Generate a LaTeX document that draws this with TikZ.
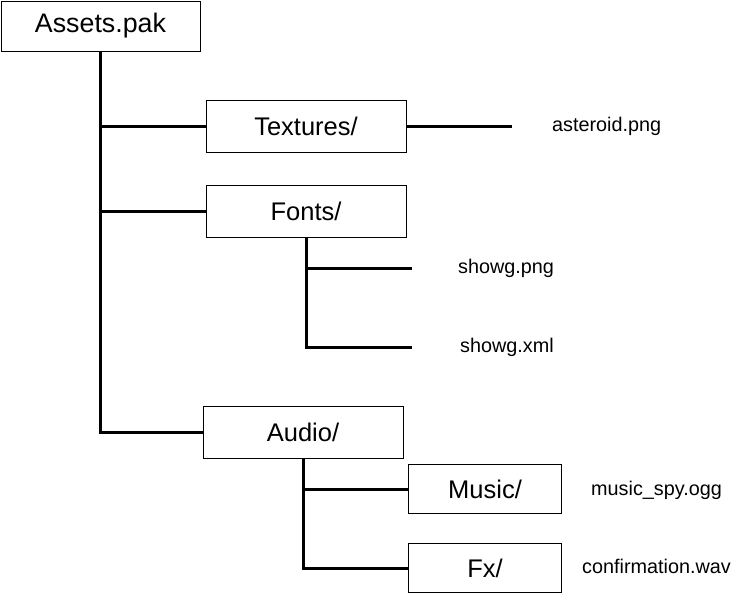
\documentclass[tikz,border=0pt]{standalone}
\usepackage{fontspec}
\setmainfont{Liberation Sans}
\begin{document}
\begin{tikzpicture}[x=1pt,y=-1pt,
  box/.style={draw,line width=1pt,inner sep=0pt,outer sep=0pt,minimum width=200pt,minimum height=52pt,font=\fontsize{25.5}{29}\selectfont},
  smallbox/.style={box,minimum width=153pt,minimum height=49pt},
  file/.style={inner sep=0pt,anchor=west,font=\fontsize{19.8}{23}\selectfont,text height=14pt,text depth=4pt},
  link/.style={line width=3pt}]
\useasboundingbox (0,0) rectangle (743,605);
\node[box,minimum width=199pt,minimum height=50pt,font=\fontsize{26.8}{30}\selectfont] (root) at (100.5,26) {Assets.pak};
\node[box] (tex) at (306,126) {Textures/};
\node[box] (fonts) at (306,211) {Fonts/};
\node[box] (audio) at (303,432) {Audio/};
\node[smallbox] (music) at (485,489) {Music/};
\node[smallbox] (fx) at (485,568) {Fx/};
\node[file] (ast) at (552,126) {asteroid.png};
\node[file] (spng) at (458,268) {showg.png};
\node[file] (sxml) at (460,347) {showg.xml};
\node[file] (mspy) at (591,490) {music\_spy.ogg};
\node[file] (conf) at (582,568) {confirmation.wav};
\coordinate (texend) at (512,126);
\coordinate (spngend) at (412,268);
\coordinate (sxmlend) at (412,347);
\coordinate (rootx) at (100,51);
\draw[link] (rootx) |- (audio.west);
\draw[link] (rootx |- tex.west) -- (tex.west);
\draw[link] (rootx |- fonts.west) -- (fonts.west);
\draw[link] (tex.east) -- (texend);
\draw[link] (fonts.south) |- (sxmlend);
\draw[link] (fonts.south |- spngend) -- (spngend);
\draw[link] (audio.south) |- (fx.west);
\draw[link] (audio.south |- music.west) -- (music.west);
\end{tikzpicture}
\end{document}
